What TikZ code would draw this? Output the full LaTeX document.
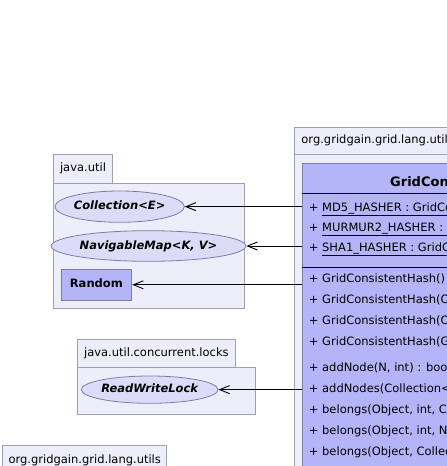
\documentclass[tikz,border=0pt]{standalone}
\usepackage{fontspec}
\setmainfont{DejaVu Sans}
\usetikzlibrary{shapes.geometric,arrows.meta}
\definecolor{pkgfill}{RGB}{238,238,250}
\definecolor{pkgline}{RGB}{160,160,180}
\definecolor{clsfill}{RGB}{180,180,248}
\definecolor{clsline}{RGB}{125,125,165}
\definecolor{ifill}{RGB}{220,220,248}
\tikzset{
  txt/.style={font=\fontsize{11.5}{13.8}\selectfont, text height=8.4pt, text depth=2.4pt},
  pkgbody/.style={draw=pkgline, fill=pkgfill, line width=0.9pt, inner sep=0pt},
  pkgtab/.style={draw=pkgline, fill=pkgfill, line width=0.9pt, inner sep=0pt, txt},
  iface/.style={ellipse, draw=clsline, fill=ifill, line width=0.8pt, inner sep=0pt, txt, font=\fontsize{11.5}{13.8}\selectfont\bfseries\itshape},
  clsbox/.style={rectangle, draw=clsline, fill=clsfill, line width=0.9pt, inner sep=0pt, txt, font=\fontsize{11.5}{13.8}\selectfont\bfseries},
  member/.style={anchor=base west, inner sep=0pt, font=\fontsize{11.5}{13.8}\selectfont},
  sep/.style={draw=black, line width=0.9pt},
  dep/.style={draw=black, line width=0.9pt, {Straight Barb[length=10pt,width=8pt]}-}
}
\begin{document}
\begin{tikzpicture}[x=1pt,y=-1pt]
\useasboundingbox (0,0) rectangle (447,466);
\clip (0,0) rectangle (447,466);
\fill[white] (0,0) rectangle (447,466);

% java.util package
\node[pkgtab, minimum width=59.4pt, minimum height=29.3pt] (jutab) at (83,168.65) {java.util};
\node[pkgbody, minimum width=191pt, minimum height=125pt] (jubody) at (148.8,245.8) {};
\node[iface, minimum width=117.3pt, minimum height=31.3pt] (coll) at (119.65,206.65) {Collection<E>};
\node[iface, minimum width=175pt, minimum height=30.6pt] (nmap) at (148.5,246) {NavigableMap<K, V>};
\node[clsbox, minimum width=70.7pt, minimum height=31pt] (rand) at (96.35,284.8) {Random};

% java.util.concurrent.locks package
\node[pkgtab, minimum width=157.3pt, minimum height=28.3pt] (lktab) at (156.35,353.15) {java.util.concurrent.locks};
\node[pkgbody, minimum width=177.3pt, minimum height=47pt] (lkbody) at (166.35,390.8) {};
\node[iface, minimum width=127.3pt, minimum height=27.3pt] (rwl) at (149.65,389.65) {ReadWriteLock};

% bottom-left package tab
\node[pkgtab, minimum width=164pt, minimum height=30pt] (bltab) at (84.7,460) {org.gridgain.grid.lang.utils};

% big package
\node[pkgtab, anchor=north west, minimum height=27.5pt, inner xsep=6.7pt] (bigtab) at (294.3,126.5) {org.gridgain.grid.lang.utils};
\node[pkgbody, anchor=north west, minimum width=320pt, minimum height=560pt] (bigbody) at (294.3,154) {};

% class box
\node[clsbox, anchor=north west, minimum width=260pt, minimum height=520pt] (cls) at (302.3,162.7) {};
\node[anchor=base west, inner sep=0pt, font=\fontsize{13}{15}\selectfont\bfseries] (title) at (390,186.7) {GridConsistentHash};
\draw[sep] (302.3,193.5) -- (447,193.5);
\node[member] (a1) at (308.7,211) {+ \underline{MD5\_HASHER : GridConsistentHash}};
\node[member] (a2) at (308.7,231) {+ \underline{MURMUR2\_HASHER : GridConsistentHash}};
\node[member] (a3) at (308.7,251) {+ \underline{SHA1\_HASHER : GridConsistentHash}};
\draw[sep] (302.3,267) -- (447,267);
\node[member] (m1) at (308.7,282) {+ GridConsistentHash()};
\node[member] (m2) at (308.7,303) {+ GridConsistentHash(Object)};
\node[member] (m3) at (308.7,324) {+ GridConsistentHash(Object, Hasher)};
\node[member] (m4) at (308.7,345) {+ GridConsistentHash(GridConsistentHash)};
\node[member] (m5) at (308.7,371) {+ addNode(N, int) : boolean};
\node[member] (m6) at (308.7,392) {+ addNodes(Collection<N>, int) : void};
\node[member] (m7) at (308.7,413) {+ belongs(Object, int, Collection<N>)};
\node[member] (m8) at (308.7,434) {+ belongs(Object, int, N)};
\node[member] (m9) at (308.7,455) {+ belongs(Object, Collection<N>)};

% dependencies
\draw[dep] (coll) -- (coll -| cls.west);
\draw[dep] (nmap) -- (nmap -| cls.west);
\draw[dep] (rand) -- (rand -| cls.west);
\draw[dep] (rwl) -- (rwl -| cls.west);
\end{tikzpicture}
\end{document}
